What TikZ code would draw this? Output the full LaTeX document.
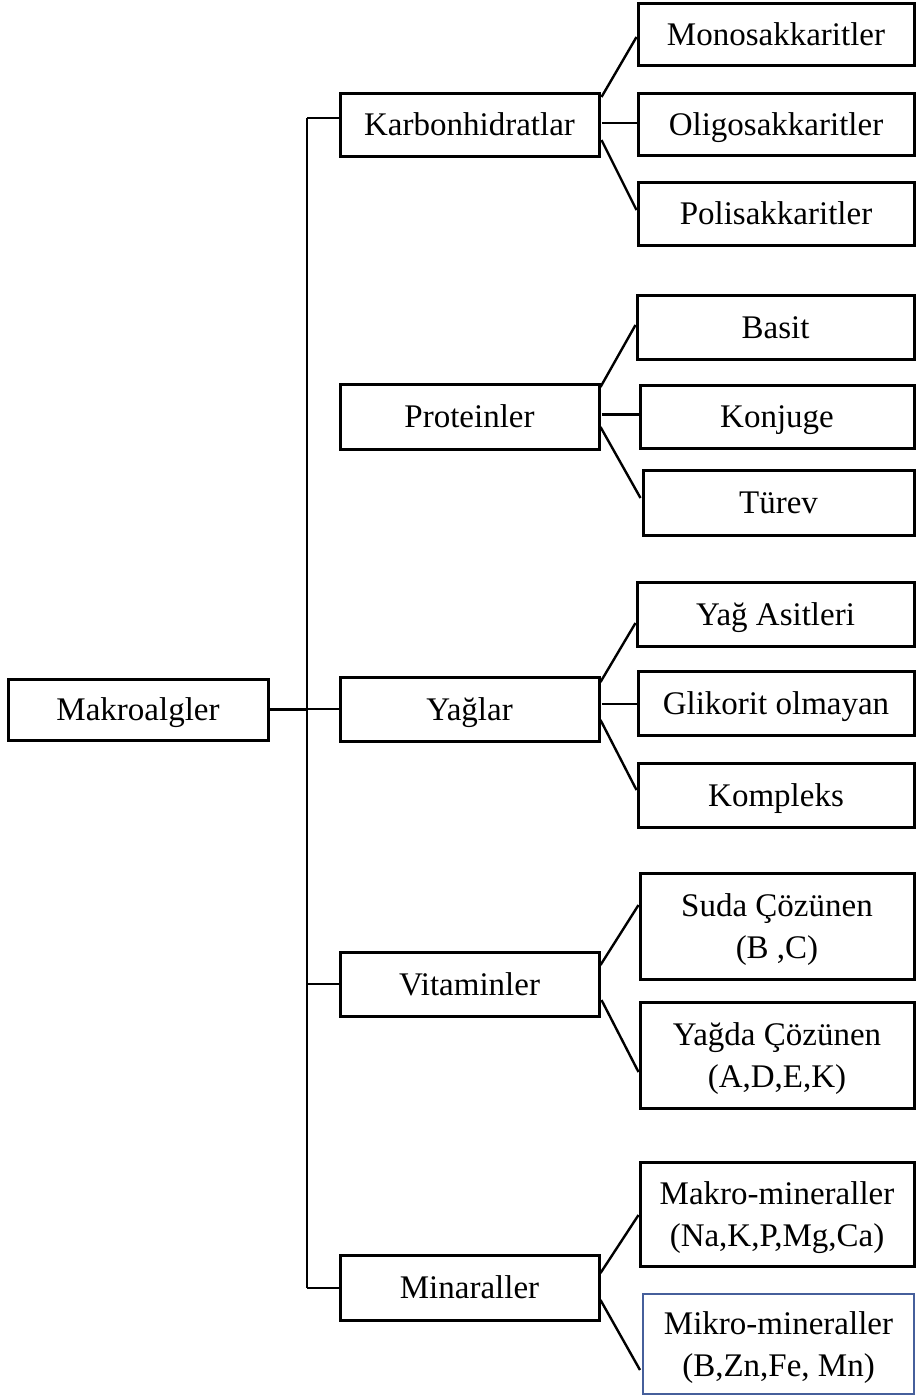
\documentclass[tikz,border=0pt]{standalone}
\usepackage{fontspec}
\setmainfont{Liberation Serif}
\usetikzlibrary{calc}
\definecolor{mikroblue}{RGB}{70,95,155}
\newcommand\sst{\rule[-9pt]{0pt}{40pt}}
\newcommand\mkbox[7][]{%
  \node[box,#1,minimum width={#5-#3},minimum height={#6-#4}] (#2) at ({(#3+#5)/2},{(#4+#6)/2}) {#7};}
\begin{document}
\begin{tikzpicture}[x=1pt,y=-1pt,
  box/.style={draw, line width=3pt, inner sep=0pt, align=center,
    font=\fontsize{33}{42}\selectfont},
  conn/.style={line width=2.4pt}]
\fill[white] (0,0) rectangle (916,1400);
\useasboundingbox (0,0) rectangle (916,1400);
% root and parents
\mkbox{mak}{8}{679}{268}{740}{\sst Makroalgler}
\mkbox{karb}{340}{93}{599}{156}{\sst Karbonhidratlar}
\mkbox{prot}{340}{384}{599}{449}{\sst Proteinler}
\mkbox{yag}{340}{677}{599}{741}{\sst Yağlar}
\mkbox{vit}{340}{952}{599}{1016}{\sst Vitaminler}
\mkbox{min}{340}{1255}{599}{1320}{\sst Minaraller}
% children
\mkbox{mono}{638}{3}{914}{65}{\sst Monosakkaritler}
\mkbox{oligo}{638}{93}{914}{155}{\sst Oligosakkaritler}
\mkbox{poli}{638}{182}{914}{245}{\sst Polisakkaritler}
\mkbox{basit}{637}{295}{914}{359}{\sst Basit}
\mkbox{konj}{640}{385}{914}{448}{\sst Konjuge}
\mkbox{turev}{643}{470}{914}{535}{\sst Türev}
\mkbox{yagas}{637}{582}{914}{646}{\sst Yağ Asitleri}
\mkbox{glik}{638}{671}{914}{735}{\sst Glikorit olmayan}
\mkbox{komp}{638}{763}{914}{827}{\sst Kompleks}
\mkbox{suda}{640}{873}{914}{979}{\sst Suda Çözünen\\\sst (B ,C)}
\mkbox{yagda}{640}{1002}{914}{1108}{\sst Yağda Çözünen\\\sst (A,D,E,K)}
\mkbox{makro}{640}{1162}{914}{1266}{\sst Makro-mineraller\\\sst (Na,K,P,Mg,Ca)}
\mkbox[draw=mikroblue,line width=2pt]{mikro}{643}{1294}{914}{1394}{\sst Mikro-mineraller\\\sst (B,Zn,Fe, Mn)}
% trunk
\coordinate (ttop) at (307,118);
\coordinate (tbot) at (307,1288);
\draw[conn] (ttop) -- (tbot);
\draw[conn] (mak.east) -- (mak.east -| ttop);
\draw[conn] (ttop) -- (ttop -| karb.west);
\draw[conn] ($(prot.west)+(0,-2.5)$ -| ttop) -- ($(prot.west)+(0,-2.5)$);
\draw[conn] (yag.west -| ttop) -- (yag.west);
\draw[conn] (vit.west -| ttop) -- (vit.west);
\draw[conn] (tbot) -- (tbot -| min.west);
% Karbonhidratlar children
\draw[conn] ($(karb.east)+(1,-27.5)$) -- ($(mono.west)+(0,3)$);
\draw[conn] ($(karb.east)+(1,-1.5)$) -- ($(oligo.west)+(0,-1)$);
\draw[conn] ($(karb.east)+(1,15.5)$) -- ($(poli.west)+(0,-3.5)$);
% Proteinler children
\draw[conn] ($(prot.east)+(0,-29.5)$) -- ($(basit.west)+(0,-2)$);
\draw[conn] ($(konj.west)+(-37,-2)$) -- ($(konj.west)+(0,-2)$);
\draw[conn] ($(prot.east)+(0,10.5)$) -- ($(turev.west)+(-1,-4.5)$);
% Yaglar children
\draw[conn] ($(yag.east)+(0,-27)$) -- ($(yagas.west)+(0,9)$);
\draw[conn] ($(glik.west)+(-35,1)$) -- ($(glik.west)+(0,1)$);
\draw[conn] ($(yag.east)+(0,11)$) -- ($(komp.west)+(0,-5)$);
% Vitaminler children
\draw[conn] ($(vit.east)+(0,-19)$) -- ($(suda.west)+(0,-21)$);
\draw[conn] ($(vit.east)+(1,16)$) -- ($(yagda.west)+(0,17)$);
% Minaraller children
\draw[conn] ($(min.east)+(0,-14.5)$) -- ($(makro.west)+(0,1)$);
\draw[conn] ($(min.east)+(0,12.5)$) -- ($(mikro.west)+(-2,26)$);
\end{tikzpicture}
\end{document}
